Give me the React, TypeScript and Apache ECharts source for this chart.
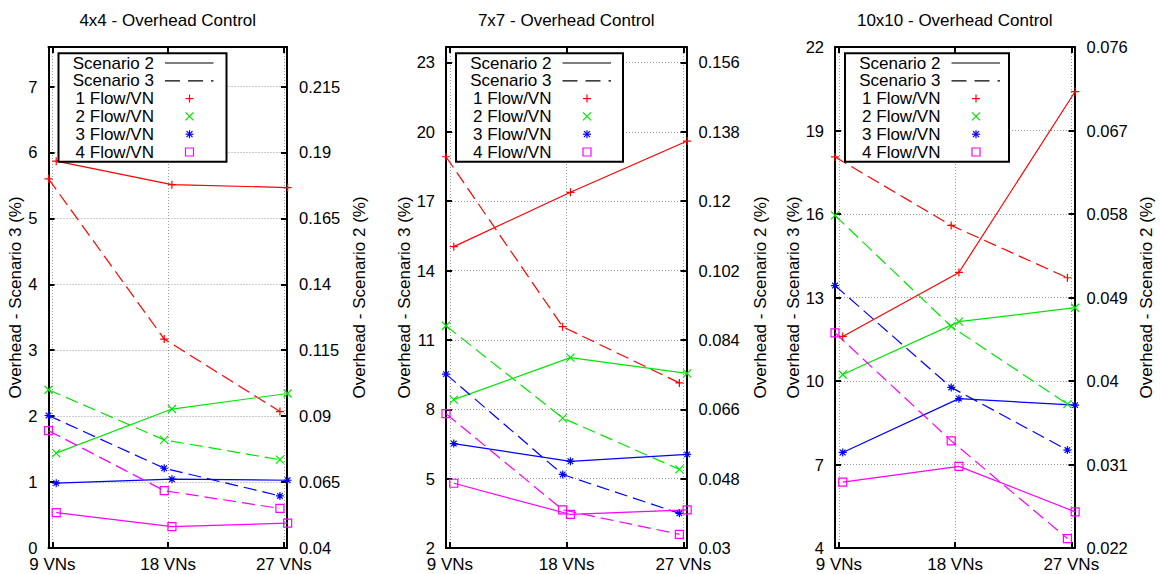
import React, { useEffect, useRef } from 'react';
import * as echarts from 'echarts';

// ---------- data ----------
const VN_COUNTS = [9, 18, 27];
const X_LABELS = ['9 VNs', '18 VNs', '27 VNs'];
const FLOW_NAMES = ['1 Flow/VN', '2 Flow/VN', '3 Flow/VN', '4 Flow/VN'];
const SCENARIO_NAMES = ['Scenario 2', 'Scenario 3'];
const TITLES = ['4x4 - Overhead Control', '7x7 - Overhead Control', '10x10 - Overhead Control'];
const LEFT_NAME = 'Overhead - Scenario 3 (%)';
const RIGHT_NAME = 'Overhead - Scenario 2 (%)';

// 4x4 panel: Scenario 3 on left axis, Scenario 2 on right axis (rows = 1..4 Flow/VN)
const S3_4X4 = [
  [5.6, 3.17, 2.07],
  [2.4, 1.64, 1.34],
  [2.01, 1.21, 0.79],
  [1.78, 0.87, 0.6],
];
const S2_4X4 = [
  [0.1867, 0.1778, 0.1767],
  [0.076, 0.0927, 0.0986],
  [0.0646, 0.0661, 0.0657],
  [0.0534, 0.0481, 0.0494],
];
// 7x7 panel
const S3_7X7 = [
  [18.92, 11.57, 9.14],
  [11.61, 7.62, 5.4],
  [9.52, 5.18, 3.5],
  [7.81, 3.65, 2.59],
];
const S2_7X7 = [
  [0.1082, 0.1223, 0.1356],
  [0.0685, 0.0794, 0.0753],
  [0.0571, 0.0525, 0.0543],
  [0.0468, 0.0387, 0.0399],
];
// 10x10 panel
const S3_10X10 = [
  [18.05, 15.59, 13.71],
  [15.95, 11.96, 9.17],
  [13.43, 9.77, 7.52],
  [11.73, 7.85, 4.34],
];
const S2_10X10 = [
  [0.0448, 0.0517, 0.0712],
  [0.0407, 0.0464, 0.0479],
  [0.0323, 0.0381, 0.0374],
  [0.0291, 0.0308, 0.0259],
];

// axis ranges and tick labels
const LEFT_TICKS_4X4 = [0, 1, 2, 3, 4, 5, 6, 7];
const RIGHT_TICKS_4X4 = [0.04, 0.065, 0.09, 0.115, 0.14, 0.165, 0.19, 0.215];
const LEFT_TICKS_7X7 = [2, 5, 8, 11, 14, 17, 20, 23];
const RIGHT_TICKS_7X7 = [0.03, 0.048, 0.066, 0.084, 0.102, 0.12, 0.138, 0.156];
const LEFT_TICKS_10X10 = [4, 7, 10, 13, 16, 19, 22];
const RIGHT_TICKS_10X10 = [0.022, 0.031, 0.04, 0.049, 0.058, 0.067, 0.076];
const LEFT_RANGE_4X4 = [0, 7.6];
const RIGHT_RANGE_4X4 = [0.04, 0.23];
const LEFT_RANGE_7X7 = [2, 23.667];
const RIGHT_RANGE_7X7 = [0.03, 0.16];
const LEFT_RANGE_10X10 = [4, 22];
const RIGHT_RANGE_10X10 = [0.022, 0.076];
const X_RANGE = [8.7, 27.25];

// ---------- styles / layout ----------
const FONT = '"Liberation Sans", Arial, Helvetica, sans-serif';
const COLORS = ['#ff0000', '#00e600', '#0000ff', '#ff00ff'];
const SYMBOLS = [
  'path://M0,5L10,5M5,0L5,10',
  'path://M0,0L10,10M0,10L10,0',
  'path://M0,5L10,5M5,0L5,10M1.5,1.5L8.5,8.5M1.5,8.5L8.5,1.5',
  'path://M0,0L10,0L10,10L0,10Z',
];
const DASH = [13, 6];
const S2_DX = 0.3; // solid points drawn slightly right of the tick
const S3_DX = -0.3; // dashed points slightly left
const GRID_TOP = 47;
const GRID_HEIGHT = 501;
const X_TICK_FONT = 17;
const Y_TICK_FONT = 16.5;
const NAME_FONT = 17;
const LAYOUT = [
  { left: 48.5, width: 238.5, leftGap: 20, rightGap: 64, legendW: 168 },
  { left: 446, width: 240.5, leftGap: 32, rightGap: 65, legendW: 167 },
  { left: 835, width: 239.5, leftGap: 31, rightGap: 63, legendW: 164 },
];

const PANELS = [
  { title: TITLES[0], s3: S3_4X4, s2: S2_4X4, lt: LEFT_TICKS_4X4, rt: RIGHT_TICKS_4X4, lr: LEFT_RANGE_4X4, rr: RIGHT_RANGE_4X4 },
  { title: TITLES[1], s3: S3_7X7, s2: S2_7X7, lt: LEFT_TICKS_7X7, rt: RIGHT_TICKS_7X7, lr: LEFT_RANGE_7X7, rr: RIGHT_RANGE_7X7 },
  { title: TITLES[2], s3: S3_10X10, s2: S2_10X10, lt: LEFT_TICKS_10X10, rt: RIGHT_TICKS_10X10, lr: LEFT_RANGE_10X10, rr: RIGHT_RANGE_10X10 },
];

const fmtNum = (v: number) => String(parseFloat(Number(v).toFixed(4)));

function buildOption() {
  const grid: any[] = [];
  const xAxis: any[] = [];
  const yAxis: any[] = [];
  const series: any[] = [];
  const graphic: any[] = [];

  const axisLine = { show: true, onZero: false, lineStyle: { color: '#000', width: 2 } };
  const tickStyle = { color: '#000', width: 2 };
  const splitLine = { show: true, lineStyle: { color: '#9a9a9a', width: 1, type: [1, 2] } };

  PANELS.forEach((p, pi) => {
    const L = LAYOUT[pi];
    grid.push({ left: L.left, top: GRID_TOP, width: L.width, height: GRID_HEIGHT, outerBoundsMode: 'none', containLabel: false });

    // bottom x axis
    xAxis.push({
      type: 'value', gridIndex: pi, position: 'bottom', min: X_RANGE[0], max: X_RANGE[1],
      axisLine,
      axisTick: { show: true, inside: true, length: 6, lineStyle: tickStyle, customValues: VN_COUNTS },
      axisLabel: {
        color: '#000', fontSize: X_TICK_FONT, fontFamily: FONT, margin: 8, customValues: VN_COUNTS,
        formatter: (v: number) => X_LABELS[VN_COUNTS.indexOf(Math.round(v))] ?? '',
      },
      splitLine,
    });
    // top x axis (mirror ticks)
    xAxis.push({
      type: 'value', gridIndex: pi, position: 'top', min: X_RANGE[0], max: X_RANGE[1],
      axisLine,
      axisTick: { show: true, inside: true, length: 6, lineStyle: tickStyle, customValues: VN_COUNTS },
      axisLabel: { show: false },
      splitLine: { show: false },
    });
    // left y axis (Scenario 3)
    yAxis.push({
      type: 'value', gridIndex: pi, position: 'left', min: p.lr[0], max: p.lr[1],
      axisLine,
      axisTick: { show: true, inside: true, length: 6, lineStyle: tickStyle, customValues: p.lt },
      axisLabel: { color: '#000', fontSize: Y_TICK_FONT, fontFamily: FONT, margin: 11, customValues: p.lt, formatter: fmtNum },
      splitLine,
      name: LEFT_NAME, nameLocation: 'middle', nameRotate: 90, nameGap: L.leftGap,
      nameTextStyle: { color: '#000', fontSize: NAME_FONT, fontFamily: FONT },
    });
    // right y axis (Scenario 2)
    yAxis.push({
      type: 'value', gridIndex: pi, position: 'right', min: p.rr[0], max: p.rr[1],
      axisLine,
      axisTick: { show: true, inside: true, length: 6, lineStyle: tickStyle, customValues: p.rt },
      axisLabel: { color: '#000', fontSize: Y_TICK_FONT, fontFamily: FONT, margin: 12, customValues: p.rt, formatter: fmtNum },
      splitLine: { show: false },
      name: RIGHT_NAME, nameLocation: 'middle', nameRotate: 90, nameGap: L.rightGap,
      nameTextStyle: { color: '#000', fontSize: NAME_FONT, fontFamily: FONT },
    });

    for (let f = 0; f < 4; f++) {
      const color = COLORS[f];
      const common = {
        type: 'line', xAxisIndex: 2 * pi, symbol: SYMBOLS[f], symbolSize: 8,
        showSymbol: true, showAllSymbol: true, clip: false, silent: true, animation: false,
        itemStyle: { color: 'rgba(0,0,0,0)', borderColor: color, borderWidth: 1.2 },
        emphasis: { disabled: true },
      };
      series.push({
        ...common,
        name: `${SCENARIO_NAMES[0]} ${FLOW_NAMES[f]} ${p.title}`,
        yAxisIndex: 2 * pi + 1,
        lineStyle: { color, width: 1.2, type: 'solid' },
        data: VN_COUNTS.map((v, i) => [v + S2_DX, p.s2[f][i]]),
        z: 3,
      });
      series.push({
        ...common,
        name: `${SCENARIO_NAMES[1]} ${FLOW_NAMES[f]} ${p.title}`,
        yAxisIndex: 2 * pi,
        lineStyle: { color, width: 1.2, type: DASH },
        data: VN_COUNTS.map((v, i) => [v + S3_DX, p.s3[f][i]]),
        z: 3,
      });
    }

    // title
    graphic.push({
      type: 'text', z: 100, x: L.left + L.width / 2, y: 20,
      style: { text: p.title, fill: '#000', fontSize: 17, fontFamily: FONT, align: 'center', verticalAlign: 'middle' },
    });

    // legend box
    const bx = L.left + 10;
    const by = 53.3;
    const rowY = (k: number) => 9.7 + k * 17.8;
    const textX = 95.5;
    const lineX1 = 106.5;
    const lineX2 = 155;
    const mx = 131;
    const ms = 4;
    const children: any[] = [
      { type: 'rect', z: 100, shape: { x: 0, y: 0, width: L.legendW, height: 108.5 }, style: { fill: '#fff', stroke: '#000', lineWidth: 2 } },
    ];
    const labels = [...SCENARIO_NAMES, ...FLOW_NAMES];
    labels.forEach((t, k) => {
      children.push({
        type: 'text', z: 101, x: textX, y: rowY(k),
        style: { text: t, fill: '#000', fontSize: 17, fontFamily: FONT, align: 'right', verticalAlign: 'middle' },
      });
    });
    children.push({ type: 'line', z: 101, shape: { x1: lineX1, y1: rowY(0), x2: lineX2, y2: rowY(0) }, style: { stroke: '#000', lineWidth: 1.2 } });
    children.push({ type: 'line', z: 101, shape: { x1: lineX1, y1: rowY(1), x2: lineX2, y2: rowY(1) }, style: { stroke: '#000', lineWidth: 1.2, lineDash: [15, 8] } });
    const seg = (x1: number, y1: number, x2: number, y2: number, c: string) => ({
      type: 'line', z: 101, shape: { x1, y1, x2, y2 }, style: { stroke: c, lineWidth: 1.2 },
    });
    // + marker
    let cy = rowY(2);
    children.push(seg(mx - ms, cy, mx + ms, cy, COLORS[0]), seg(mx, cy - ms, mx, cy + ms, COLORS[0]));
    // x marker
    cy = rowY(3);
    children.push(seg(mx - ms, cy - ms, mx + ms, cy + ms, COLORS[1]), seg(mx - ms, cy + ms, mx + ms, cy - ms, COLORS[1]));
    // * marker
    cy = rowY(4);
    children.push(
      seg(mx - ms, cy, mx + ms, cy, COLORS[2]), seg(mx, cy - ms, mx, cy + ms, COLORS[2]),
      seg(mx - 3, cy - 3, mx + 3, cy + 3, COLORS[2]), seg(mx - 3, cy + 3, mx + 3, cy - 3, COLORS[2]),
    );
    // square marker
    cy = rowY(5);
    children.push({ type: 'rect', z: 101, shape: { x: mx - ms, y: cy - ms, width: 2 * ms, height: 2 * ms }, style: { fill: 'none', stroke: COLORS[3], lineWidth: 1.2 } });

    graphic.push({ type: 'group', x: bx, y: by, z: 100, children });
  });

  return {
    animation: false,
    backgroundColor: '#fff',
    textStyle: { fontFamily: FONT },
    grid, xAxis, yAxis, series,
    graphic: { elements: graphic },
  };
}

export default function App() {
  const ref = useRef<HTMLDivElement>(null);
  useEffect(() => {
    if (!ref.current) return;
    const chart = echarts.init(ref.current, undefined, { renderer: 'svg' });
    chart.setOption(buildOption() as any);
    return () => chart.dispose();
  }, []);
  return (
    <div
      ref={ref}
      style={{ position: 'absolute', left: 0, top: 0, width: 1160, height: 574, background: '#fff' }}
    />
  );
}
